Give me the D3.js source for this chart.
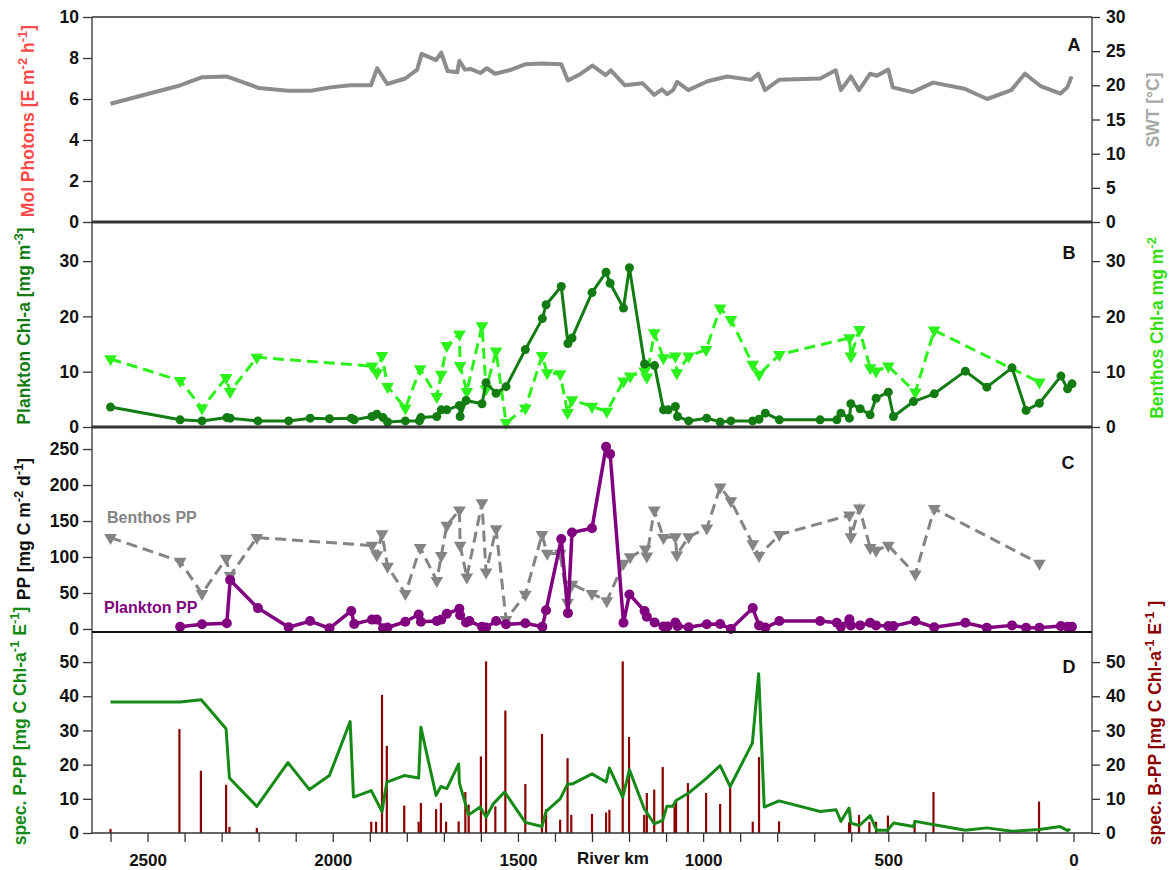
<!DOCTYPE html>
<html><head><meta charset="utf-8">
<script src="https://cdn.jsdelivr.net/npm/d3@7"></script>
<style>
body{margin:0;background:#fff;}
svg{display:block;font-family:Arial,"Liberation Sans",sans-serif;font-weight:bold;}
</style>
</head><body>
<svg id="chart" width="1170" height="870"></svg>
<script>
// ---------------- DATA (river km, value) ----------------
const swt = [[2600,17.3],[2418,19.9],[2352,21.2],[2287,21.3],[2199,19.6],[2120,19.2],[2059,19.2],[2006,19.7],[1953,20.0],[1897,20.0],[1880,22.5],[1853,20.2],[1804,21.0],[1772,22.3],[1760,24.6],[1721,23.7],[1707,24.8],[1690,22.1],[1664,21.9],[1658,23.6],[1643,22.3],[1628,22.4],[1602,21.8],[1584,22.5],[1562,21.7],[1523,22.2],[1479,23.1],[1435,23.2],[1383,23.1],[1365,20.7],[1330,21.7],[1299,22.9],[1263,21.5],[1249,22.2],[1211,20.0],[1163,20.3],[1132,18.6],[1111,19.4],[1097,18.7],[1081,19.3],[1070,20.5],[1040,19.3],[988,20.6],[935,21.3],[870,20.8],[851,21.7],[833,19.3],[795,20.8],[684,21.0],[642,22.2],[628,19.3],[601,21.3],[579,19.3],[549,21.7],[531,21.4],[500,22.3],[488,19.7],[435,19.0],[379,20.4],[294,19.5],[233,18.0],[168,19.3],[131,21.7],[89,19.9],[35,18.8],[17,19.7],[5,21.3]];

const planktonChl = [[2600,3.6],[2412,1.3],[2353,1.1],[2286,1.7],[2277,1.6],[2202,1.1],[2119,1.1],[2061,1.6],[2009,1.5],[1950,1.6],[1942,1.3],[1894,1.9],[1881,2.3],[1864,1.7],[1852,0.9],[1804,1.1],[1766,1.1],[1762,1.7],[1719,1.9],[1707,3.1],[1692,3.1],[1658,3.9],[1656,1.9],[1640,4.8],[1597,4.2],[1586,8.0],[1559,6.1],[1532,7.3],[1480,14.0],[1434,19.6],[1424,22.1],[1383,25.4],[1365,15.1],[1354,16.1],[1300,24.3],[1262,28.0],[1251,26.0],[1215,21.5],[1199,28.8],[1158,11.4],[1131,11.1],[1107,3.1],[1094,3.1],[1075,3.7],[1069,1.9],[1039,1.1],[990,1.6],[954,0.9],[925,1.1],[866,1.1],[849,1.4],[832,2.5],[794,1.3],[684,1.3],[639,1.3],[628,2.5],[605,1.6],[601,4.2],[576,3.3],[549,2.2],[533,5.2],[500,6.3],[486,1.9],[432,4.6],[376,6.0],[292,10.1],[234,7.2],[166,10.7],[128,3.0],[92,4.3],[34,9.2],[16,6.9],[4,7.8]];

const benthosChl = [[2600,12.3],[2412,8.4],[2353,3.4],[2288,8.9],[2277,6.4],[2205,12.6],[1894,11.0],[1881,9.8],[1867,12.9],[1852,7.3],[1804,3.4],[1764,10.5],[1719,5.5],[1707,9.5],[1692,14.7],[1658,16.8],[1656,11.1],[1638,6.4],[1597,18.3],[1586,6.9],[1559,13.7],[1532,0.8],[1480,3.4],[1435,12.9],[1421,9.8],[1386,9.6],[1366,2.6],[1354,4.9],[1300,3.7],[1260,2.8],[1215,8.3],[1197,9.2],[1158,10.1],[1152,9.0],[1132,17.0],[1107,12.5],[1075,12.8],[1071,9.8],[1039,12.8],[992,14.0],[954,21.5],[925,19.4],[866,11.3],[849,9.5],[794,13.1],[605,16.1],[601,12.8],[578,17.6],[549,10.7],[533,10.1],[500,11.0],[427,6.3],[376,17.5],[92,8.1]];

const planktonPP = [[2412,3.2],[2353,6.5],[2286,7.9],[2277,68],[2202,29],[2119,2.4],[2061,11],[2009,1],[1950,25],[1942,7],[1894,13],[1881,13],[1864,1],[1852,2],[1804,10],[1768,20],[1762,10],[1719,11],[1707,13],[1692,21],[1658,28],[1656,19],[1640,9],[1631,11],[1597,3],[1586,2],[1559,11],[1532,6.5],[1480,8],[1434,3],[1424,26],[1383,125],[1365,22],[1354,134],[1300,140],[1262,253],[1251,243],[1215,8.6],[1199,48],[1158,25],[1152,17],[1131,9],[1107,3.5],[1096,3.5],[1075,9],[1069,4],[1039,2.4],[990,6.5],[954,7],[925,0],[866,29],[849,5],[832,2],[794,11],[684,11],[639,8.6],[628,3.2],[605,13.6],[601,5],[576,5],[549,8.6],[533,5],[500,4],[486,4],[427,11],[376,2.4],[292,8.6],[234,1.6],[166,5],[128,1.6],[92,1.6],[34,4],[16,3],[4,3]];

const benthosPP = [[2600,127],[2412,94],[2353,49],[2288,98],[2277,74],[2205,127],[1894,116],[1881,103],[1867,132],[1852,87],[1804,49],[1764,113],[1719,67],[1707,102],[1692,144],[1658,165],[1656,116],[1638,72],[1597,175],[1586,79],[1559,139],[1532,13],[1480,48],[1435,131],[1421,105],[1386,105],[1366,37],[1354,62],[1300,49],[1260,39],[1215,91],[1197,100],[1156,111],[1152,101],[1132,165],[1107,127],[1075,128],[1071,103],[1039,128],[990,140],[954,197],[925,178],[866,118],[849,102],[794,131],[605,158],[601,128],[578,168],[549,113],[533,109],[500,116],[427,76],[376,167],[92,91]];

const specPPP = [[2600,38.3],[2412,38.3],[2355,39.0],[2288,30.5],[2279,16.1],[2205,7.8],[2121,20.6],[2063,12.7],[2009,16.8],[1953,32.6],[1944,10.5],[1896,12.4],[1867,6.3],[1854,14.9],[1807,16.8],[1768,16.1],[1762,30.9],[1721,11.0],[1708,13.6],[1692,13.0],[1660,20.2],[1658,14.6],[1633,5.3],[1602,7.6],[1586,4.7],[1566,8.6],[1536,12.0],[1480,3.1],[1435,1.9],[1424,6.3],[1386,10.0],[1366,14.3],[1354,14.3],[1300,17.3],[1262,14.9],[1253,19.0],[1217,10.5],[1199,18.5],[1159,7.1],[1132,2.7],[1109,3.7],[1098,7.8],[1082,7.8],[1073,9.5],[1039,11.7],[992,15.9],[954,19.7],[927,13.6],[867,26.3],[850,46.6],[835,7.6],[795,9.4],[684,6.3],[641,6.8],[628,3.4],[606,7.3],[601,2.9],[578,2.2],[549,5.1],[531,0.8],[502,0.8],[486,2.9],[432,1.9],[427,3.4],[376,2.4],[292,0.8],[234,1.5],[166,0.5],[92,1.0],[36,1.9],[16,0.7],[9,1.2]];

const specBPP = [[2600,1.2],[2414,30.4],[2356,18.2],[2288,14.1],[2279,1.8],[2205,1.5],[1896,3.3],[1883,3.3],[1867,40.4],[1854,25.5],[1807,8.0],[1768,3.3],[1762,8.8],[1721,7.0],[1708,8.8],[1694,3.3],[1660,3.4],[1642,12.0],[1633,8.3],[1600,22.4],[1586,50.2],[1561,7.8],[1534,35.8],[1480,14.3],[1435,29.0],[1424,7.0],[1386,3.9],[1366,21.9],[1356,5.3],[1300,5.6],[1262,6.0],[1253,6.8],[1217,50.2],[1200,28.1],[1159,5.3],[1152,11.7],[1132,12.7],[1109,19.3],[1077,7.8],[1073,9.2],[1041,14.6],[992,11.7],[954,8.5],[927,14.4],[866,3.3],[849,22.2],[795,3.4],[606,3.1],[603,6.5],[579,5.3],[551,3.2],[533,3.3],[501,5.1],[429,3.7],[378,12.0],[93,9.2]];

// tick values
const xTicks = d3.range(0, 2601, 100);
const ticksAleft = [0,2,4,6,8,10];
const ticksAright = [0,5,10,15,20,25,30];
const ticksB = [0,10,20,30];
const ticksC = [0,50,100,150,200,250];
const ticksD = [0,10,20,30,40,50];

// ---------------- LAYOUT ----------------
const L = 92, R = 1092;
const svg = d3.select('#chart');
const x = d3.scaleLinear().domain([2650,-50]).range([L,R]);
const yA = d3.scaleLinear().domain([0,10]).range([222,17]);
const yAr = d3.scaleLinear().domain([0,30]).range([222,17]);
const yB = d3.scaleLinear().domain([0,37.07]).range([427,222]);
const yC = d3.scaleLinear().domain([-4.2,280.6]).range([632,427]);
const yD = d3.scaleLinear().domain([0,58.8]).range([833,632]);

const C = {
  swt:'#8c8c8c', pchl:'#127c12', bchl:'#2cf21c', ppp:'#800080', bpp:'#848484',
  spp:'#168a16', sbpp:'#8b0000', photon:'#ff4a4a', swtT:'#a8a8a8', bchlT:'#33dd11'
};

function styleAxis(g, size){
  g.select('.domain').remove();
  g.selectAll('.tick line').attr('stroke','#333').attr('stroke-width',1.3);
  g.selectAll('.tick text').attr('fill','#111').style('font-size',(size||17.5)+'px').style('font-weight','bold');
}
function leftAxis(scale, ticks){
  svg.append('g').attr('transform',`translate(${L},0)`)
    .call(d3.axisLeft(scale).tickValues(ticks).tickSize(9).tickPadding(4).tickFormat(d3.format('d')))
    .call(styleAxis);
}
function rightAxis(scale, ticks){
  svg.append('g').attr('transform',`translate(${R},0)`)
    .call(d3.axisRight(scale).tickValues(ticks).tickSize(8).tickPadding(6).tickFormat(d3.format('d')))
    .call(styleAxis);
}
leftAxis(yA, ticksAleft); rightAxis(yAr, ticksAright);
leftAxis(yB, ticksB); rightAxis(yB, ticksB);
leftAxis(yC, ticksC);
leftAxis(yD, ticksD); rightAxis(yD, ticksD);

svg.append('g').attr('transform',`translate(0,833)`)
  .call(d3.axisBottom(x).tickValues(xTicks).tickSize(9).tickPadding(12).tickFormat(d => d % 500 === 0 ? d : ''))
  .call(g => styleAxis(g, 17));

// ---------------- PANEL A ----------------
const lineOf = (ys) => d3.line().x(d => x(d[0])).y(d => ys(d[1]));
svg.append('path').datum(swt).attr('d', lineOf(yAr)).attr('fill','none')
  .attr('stroke',C.swt).attr('stroke-width',4).attr('stroke-linejoin','round');

// ---------------- PANEL B ----------------
const tri = d3.symbol().type(d3.symbolTriangle).size(70);
function dashedTri(data, ys, color){
  svg.append('path').datum(data).attr('d', lineOf(ys)).attr('fill','none')
    .attr('stroke',color).attr('stroke-width',3).attr('stroke-dasharray','11,6');
  svg.append('g').selectAll('path').data(data).join('path')
    .attr('d', tri).attr('fill',color)
    .attr('transform', d => `translate(${x(d[0])},${ys(d[1])}) rotate(180)`);
}
function solidDots(data, ys, color, w, r){
  svg.append('path').datum(data).attr('d', lineOf(ys)).attr('fill','none')
    .attr('stroke',color).attr('stroke-width',w).attr('stroke-linejoin','round');
  svg.append('g').selectAll('circle').data(data).join('circle')
    .attr('cx', d => x(d[0])).attr('cy', d => ys(d[1])).attr('r', r).attr('fill',color);
}
dashedTri(benthosChl, yB, C.bchl);
solidDots(planktonChl, yB, C.pchl, 3, 4.5);

// ---------------- PANEL C ----------------
dashedTri(benthosPP, yC, C.bpp);
solidDots(planktonPP, yC, C.ppp, 3.5, 5);

// ---------------- PANEL D ----------------
svg.append('g').selectAll('line').data(specBPP).join('line')
  .attr('x1', d => x(d[0])).attr('x2', d => x(d[0]))
  .attr('y1', yD(0)).attr('y2', d => yD(d[1]))
  .attr('stroke', C.sbpp).attr('stroke-width', 2.2);
svg.append('path').datum(specPPP).attr('d', lineOf(yD)).attr('fill','none')
  .attr('stroke',C.spp).attr('stroke-width',3).attr('stroke-linejoin','round');

// ---------------- FRAME ----------------
const frame = svg.append('g').attr('stroke','#333').attr('fill','none');
frame.append('line').attr('x1',L).attr('x2',L).attr('y1',17).attr('y2',833).attr('stroke-width',1.3);
frame.append('line').attr('x1',R).attr('x2',R).attr('y1',17).attr('y2',833).attr('stroke-width',1.3);
frame.append('line').attr('x1',L).attr('x2',R).attr('y1',17).attr('y2',17).attr('stroke-width',1.3);
frame.append('line').attr('x1',L).attr('x2',R).attr('y1',222).attr('y2',222).attr('stroke-width',2.8);
frame.append('line').attr('x1',L).attr('x2',R).attr('y1',427).attr('y2',427).attr('stroke-width',2.8);
frame.append('line').attr('x1',L).attr('x2',R).attr('y1',632).attr('y2',632).attr('stroke-width',1.8).attr('stroke','#111');
frame.append('line').attr('x1',L).attr('x2',R).attr('y1',833).attr('y2',833).attr('stroke-width',1.6);

// ---------------- TEXT ----------------
function vtitle(cx, cy, parts, color){
  const t = svg.append('text')
    .attr('transform',`translate(${cx},${cy}) rotate(-90)`)
    .attr('text-anchor','middle').attr('fill',color).style('font-size','17.5px');
  let up = false;
  parts.forEach(p => {
    if (Array.isArray(p)) {
      t.append('tspan').attr('dy', -7).style('font-size','13px').text(p[0]);
      up = true;
    } else {
      const s = t.append('tspan').text(p);
      if (up) { s.attr('dy', 7); up = false; }
    }
  });
}
vtitle(34, 121, ['Mol Photons [E m',['-2'],' h',['-1'],']'], C.photon);
vtitle(30, 326, ['Plankton Chl-a [mg m',['-3'],']'], C.pchl);
vtitle(30, 529, ['PP [mg C m',['-2'],' d',['-1'],']'], '#111');
vtitle(26, 726, ['spec. P-PP [mg C Chl-a',['-1'],' E',['-1'],']'], C.spp);
vtitle(1159, 110, ['SWT [°C]'], C.swtT);
vtitle(1163, 328, ['Benthos Chl-a mg m',['-2']], C.bchlT);
vtitle(1161, 723, ['spec. B-PP [mg C Chl-a',['-1'],' E',['-1'],' ]'], C.sbpp);

const lab = (tx, ty, s, color, size, anchor) => svg.append('text').attr('x',tx).attr('y',ty)
  .attr('fill',color).style('font-size',size+'px').attr('text-anchor',anchor||'start').text(s);
lab(1074, 51, 'A', '#111', 18, 'middle');
lab(1069, 259, 'B', '#111', 18, 'middle');
lab(1068, 469, 'C', '#111', 18, 'middle');
lab(1069, 673, 'D', '#111', 18, 'middle');
lab(107, 523, 'Benthos PP', C.bpp, 16);
lab(104, 613, 'Plankton PP', C.ppp, 16);
lab(577, 864, 'River km', '#111', 17);
</script>
</body></html>
